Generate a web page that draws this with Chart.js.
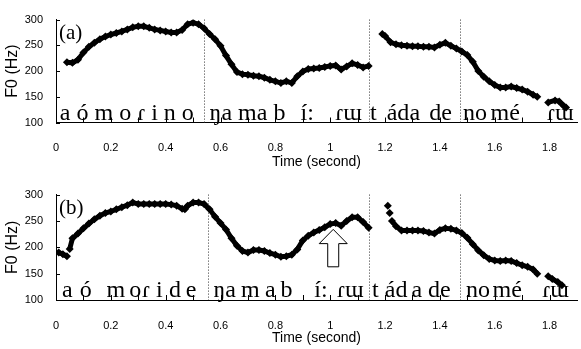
<!DOCTYPE html>
<html><head><meta charset="utf-8">
<script src="https://cdn.jsdelivr.net/npm/chart.js@4.4.1/dist/chart.umd.min.js"></script>
<style>
html,body{margin:0;padding:0;background:#fff;}
#wrap{position:relative;width:581px;height:349px;overflow:hidden;background:#fff;}
canvas{position:absolute;left:0;}
</style></head><body>
<div id="wrap">
<canvas id="ca" width="581" height="175" style="top:0"></canvas>
<canvas id="cb" width="581" height="174" style="top:175px"></canvas>
</div>
<script>
// ---- tick labels ----
const xTickValues = [0, 0.2, 0.4, 0.6, 0.8, 1, 1.2, 1.4, 1.6, 1.8];
const xTickLabels = ['0', '0.2', '0.4', '0.6', '0.8', '1', '1.2', '1.4', '1.6', '1.8'];
const yTickValues = [100, 150, 200, 250, 300];
const yTickLabels = ['100', '150', '200', '250', '300'];

// ---- panel (a) F0 contour ----
const timeA = [0.04,0.06,0.08,0.10,0.12,0.14,0.16,0.18,0.20,0.22,0.24,0.26,0.28,0.30,0.32,0.34,0.36,0.38,0.40,0.42,0.44,0.46,0.48,0.50,0.52,0.54,0.56,0.58,0.60,0.62,0.64,0.66,0.68,0.70,0.72,0.74,0.76,0.78,0.80,0.82,0.84,0.86,0.88,0.90,0.92,0.94,0.96,0.98,1.00,1.02,1.04,1.06,1.08,1.10,1.12,1.14,1.16,1.19,1.20,1.22,1.24,1.26,1.28,1.30,1.32,1.34,1.36,1.38,1.40,1.42,1.44,1.46,1.48,1.50,1.52,1.54,1.56,1.58,1.60,1.62,1.64,1.66,1.68,1.70,1.72,1.74,1.755,1.78,1.795,1.82,1.835,1.85,1.86];
const f0A   = [217,216,222,236,247,255,262,267,271,274,277,281,285,287,287,284,281,279,277,275,275,280,291,294,291,283,272,262,249,230,213,198,194,193,191,190,187,183,180,177,180,177,190,199,204,205,206,208,210,211,203,209,215,212,207,210,null,272,268,256,252,250,249,248,248,247,247,246,251,255,249,244,238,231,218,200,189,180,173,168,168,170,167,164,160,154,150,null,139,143,141,133,129];

// ---- panel (b) F0 contour ----
const timeB = [0.01,0.025,0.04,0.045,0.05,0.06,0.08,0.10,0.12,0.14,0.16,0.18,0.20,0.22,0.24,0.26,0.28,0.30,0.32,0.34,0.36,0.38,0.40,0.42,0.44,0.46,0.47,0.48,0.50,0.52,0.54,0.56,0.58,0.60,0.62,0.64,0.66,0.68,0.70,0.72,0.74,0.76,0.78,0.80,0.82,0.84,0.86,0.88,0.90,0.92,0.94,0.96,0.98,1.00,1.02,1.04,1.06,1.08,1.10,1.12,1.14,1.17,1.21,1.213,1.217,1.22,1.225,1.24,1.26,1.28,1.30,1.32,1.34,1.36,1.38,1.40,1.42,1.44,1.46,1.48,1.50,1.52,1.54,1.56,1.58,1.60,1.62,1.64,1.66,1.68,1.70,1.72,1.74,1.755,1.775,1.795,1.81,1.83,1.845];
const f0B   = [190,187,183,null,197,217,226,236,245,253,260,265,268,272,276,280,285,282,282,282,282,282,282,281,279,273,272,279,285,285,282,272,258,246,234,217,203,193,190,195,195,193,189,186,182,183,186,196,213,222,228,233,238,244,246,241,250,257,257,248,237,null,279,null,265,null,250,240,232,232,232,232,231,228,226,233,236,235,232,227,218,206,194,185,178,175,174,175,174,170,166,163,158,150,null,145,140,134,128];

// ---- segment boundaries (s) ----
const boundariesA = [0.538, 1.141, 1.473];
const boundariesB = [0.556, 1.141, 1.473];

// ---- transcriptions ----
const transcriptA = ['a ó m o ɾ i n o', 'ŋa ma b', 'í:', 'ɾɯ', 't', 'ád', 'a', 'de', 'no', 'mé', 'ɾɯ'];
const transcriptB = ['a', 'ó', 'm', 'o', 'ɾ', 'i', 'd', 'e', 'ŋa', 'm', 'a', 'b', 'í:', 'ɾɯ', 't', 'ád', 'a', 'de', 'no', 'mé', 'ɾɯ'];
const transcriptPosA = [0.014, 0.56, 0.892, 1.018, 1.145, 1.206, 1.289, 1.361, 1.484, 1.585, 1.791];
const transcriptPosB = [0.022, 0.087, 0.184, 0.267, 0.314, 0.365, 0.412, 0.473, 0.574, 0.675, 0.762, 0.819, 0.942, 1.025, 1.152, 1.199, 1.296, 1.357, 1.495, 1.592, 1.773];

const decor = {
  id: 'decor',
  beforeDatasetsDraw(chart, args, o) {
    const {ctx, chartArea: a, scales: {x}} = chart;
    ctx.save();
    ctx.strokeStyle = '#333'; ctx.lineWidth = 1; ctx.setLineDash([1, 2]);
    o.dividers.forEach(t => {
      const px = Math.round(x.getPixelForValue(t)) + 0.5;
      ctx.beginPath(); ctx.moveTo(px, a.top); ctx.lineTo(px, a.bottom); ctx.stroke();
    });
    ctx.setLineDash([]);
    ctx.fillStyle = '#000';
    ctx.font = '24px "Liberation Serif", "DejaVu Serif", serif';
    ctx.textAlign = 'left'; ctx.textBaseline = 'alphabetic';
    o.text.forEach((s, i) => ctx.fillText(s, x.getPixelForValue(o.textPos[i]), a.bottom - 3));
    ctx.font = '21px "Liberation Serif", "DejaVu Serif", serif';
    ctx.fillText(o.label, a.left + 3, a.top + 19);
    ctx.restore();
  },
  afterDatasetsDraw(chart, args, o) {
    const {ctx, chartArea: a, scales: {x, y}} = chart;
    ctx.save();
    ctx.strokeStyle = '#000'; ctx.lineWidth = 1;
    for (let k = 0; k <= 18; k++) {
      const px = Math.round(x.getPixelForValue(k / 10)) + 0.5;
      ctx.beginPath(); ctx.moveTo(px, a.bottom); ctx.lineTo(px, a.bottom - 5); ctx.stroke();
    }
    yTickValues.forEach(v => {
      const py = Math.round(y.getPixelForValue(v)) + 0.5;
      ctx.beginPath(); ctx.moveTo(a.left, py); ctx.lineTo(a.left + 4, py); ctx.stroke();
    });
    if (o.arrow) {
      const ar = o.arrow;
      const cx = x.getPixelForValue(ar.t);
      const tip = y.getPixelForValue(ar.tip), hb = y.getPixelForValue(ar.headBase), bot = y.getPixelForValue(ar.bottom);
      ctx.beginPath();
      ctx.moveTo(cx, tip);
      ctx.lineTo(cx + 14, hb); ctx.lineTo(cx + 5.5, hb); ctx.lineTo(cx + 5.5, bot);
      ctx.lineTo(cx - 5.5, bot); ctx.lineTo(cx - 5.5, hb); ctx.lineTo(cx - 14, hb);
      ctx.closePath();
      ctx.fillStyle = '#fff'; ctx.fill(); ctx.stroke();
    }
    ctx.restore();
  }
};

function makeChart(id, times, f0, opts) {
  const pts = times.map((t, i) => ({x: t, y: f0[i]}));
  return new Chart(document.getElementById(id), {
    type: 'line',
    data: {datasets: [{
      data: pts, borderColor: '#000', backgroundColor: '#000', borderWidth: 5,
      pointStyle: 'rectRot', pointRadius: 4, pointBorderWidth: 0, tension: 0, spanGaps: false
    }]},
    plugins: [decor],
    options: {
      responsive: false, animation: false, devicePixelRatio: 1,
      layout: {padding: {top: opts.padTop, right: 0, left: 0, bottom: 0}},
      plugins: {legend: {display: false}, tooltip: {enabled: false},
        decor: {dividers: opts.dividers, text: opts.text, textPos: opts.textPos, label: opts.label, arrow: opts.arrow}},
      scales: {
        x: {type: 'linear', min: 0, max: 1.9,
          afterBuildTicks: s => { s.ticks = xTickValues.map(v => ({value: v})); },
          afterFit: s => { s.height = opts.xHeight; },
          grid: {display: false, drawTicks: false},
          border: {display: true, color: '#000', width: 1},
          ticks: {autoSkip: false, maxRotation: 0, padding: 19, color: '#000',
            font: {family: '"Liberation Sans", Arial, sans-serif', size: 11},
            callback: (v, i) => xTickLabels[i]},
          title: {display: true, text: 'Time (second)', color: '#000',
            font: {family: '"Liberation Sans", Arial, sans-serif', size: 14},
            padding: {top: 0, bottom: opts.titlePad}}
        },
        y: {type: 'linear', min: 100, max: 300,
          afterBuildTicks: s => { s.ticks = yTickValues.map(v => ({value: v})); },
          afterFit: s => { s.width = 56; },
          grid: {display: false, drawTicks: false},
          border: {display: true, color: '#000', width: 1},
          ticks: {padding: 13, color: '#000',
            font: {family: '"Liberation Sans", Arial, sans-serif', size: 11},
            callback: (v, i) => yTickLabels[i]},
          title: {display: true, text: 'F0 (Hz)', color: '#000',
            font: {family: '"Liberation Sans", Arial, sans-serif', size: 16},
            padding: {top: 3, bottom: 0}}
        }
      }
    }
  });
}

makeChart('ca', timeA, f0A, {padTop: 16, xHeight: 52.5, titlePad: 4.5,
  dividers: boundariesA, text: transcriptA, textPos: transcriptPosA, label: '(a)', arrow: null});
makeChart('cb', timeB, f0B, {padTop: 19, xHeight: 49, titlePad: 2,
  dividers: boundariesB, text: transcriptB, textPos: transcriptPosB, label: '(b)',
  arrow: {t: 1.011, tip: 234, headBase: 207, bottom: 163}});
</script>
</body></html>
